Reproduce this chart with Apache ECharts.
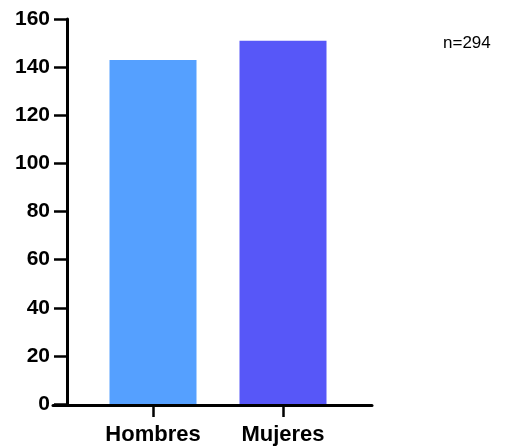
<!DOCTYPE html>
<html>
<head>
<meta charset="utf-8">
<script src="https://cdn.jsdelivr.net/npm/echarts@6/dist/echarts.min.js"></script>
<style>html,body{margin:0;padding:0;background:#fff}#c{width:505px;height:446px}</style>
</head>
<body>
<div id="c"></div>
<script>
var categories = ['Hombres', 'Mujeres'];
var values = [143, 151];
var barColors = ['#55A0FF', '#5757F8'];
var yTicks = [0, 20, 40, 60, 80, 100, 120, 140, 160];
var note = 'n=294';

var chart = echarts.init(document.getElementById('c'));
var axisFont = { color: '#000', fontWeight: 'bold', fontSize: 21, fontFamily: 'Liberation Sans, Arial, sans-serif' };
chart.setOption({
  animation: false,
  title: { text: note, left: 443, top: 35, padding: 0, textStyle: { fontSize: 17, fontWeight: 'normal', color: '#000', fontFamily: 'Liberation Sans, Arial, sans-serif' } },
  grid: [
    { left: 88, right: 157, top: 19, bottom: 41 },
    { left: 53, right: 133, top: 19, bottom: 41 }
  ],
  xAxis: [
    { type: 'category', gridIndex: 0, data: categories,
      axisLine: { show: false },
      axisTick: { show: true, alignWithLabel: true, length: 13, lineStyle: { color: '#000', width: 2.5 } },
      axisLabel: Object.assign({ margin: 20 }, axisFont, { fontSize: 22 }) },
    { type: 'value', gridIndex: 1, min: 0, max: 1,
      axisLine: { show: true, lineStyle: { color: '#000', width: 3 } },
      axisTick: { show: false }, axisLabel: { show: false }, splitLine: { show: false } }
  ],
  yAxis: [
    { type: 'value', gridIndex: 0, min: yTicks[0], max: yTicks[yTicks.length - 1], interval: 20, offset: 21,
      axisLine: { show: true, lineStyle: { color: '#000', width: 3 } },
      axisTick: { show: true, length: 13, lineStyle: { color: '#000', width: 2.5 } },
      axisLabel: Object.assign({ margin: 17 }, axisFont),
      splitLine: { show: false } },
    { type: 'value', gridIndex: 1, show: false, min: 0, max: 1 }
  ],
  series: [{
    type: 'bar', xAxisIndex: 0, yAxisIndex: 0, barWidth: 87,
    data: values.map(function (v, i) { return { value: v, itemStyle: { color: barColors[i] } }; })
  }]
});
</script>
</body>
</html>
